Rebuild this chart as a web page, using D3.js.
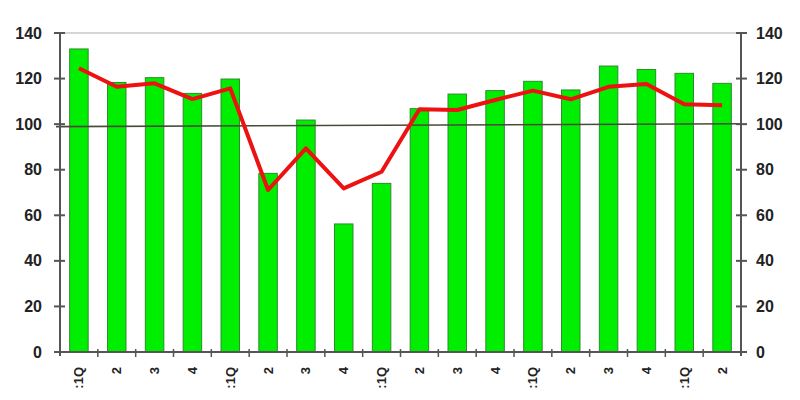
<!DOCTYPE html>
<html><head><meta charset="utf-8">
<script src="https://cdn.jsdelivr.net/npm/d3@7"></script>
<style>body{margin:0;background:#fff}svg{display:block}text{font-family:"Liberation Sans",Arial,sans-serif;font-weight:bold;fill:#222}</style>
</head><body><svg id="c" width="800" height="400"></svg>
<script>
const categories = [":1Q","2","3","4",":1Q","2","3","4",":1Q","2","3","4",":1Q","2","3","4",":1Q","2"];
const barValues = [133,118.3,120.4,113.5,119.8,78.4,101.8,56.2,74,106.8,113.2,114.7,118.8,115,125.5,124,122.3,117.9];
const lineValues = [124.5,116.4,117.9,111,115.7,71.1,89.4,71.8,79.1,106.5,106.2,110.6,114.7,110.9,116.4,117.6,108.7,108.3];
const refLine = [98.9,100.2];
const yTicks = [0,20,40,60,80,100,120,140];

const svg = d3.select("#c");
const L=60,R=741,T=33,B=352;
const idx = categories.map((d,i)=>i);
const x = d3.scaleBand().domain(idx).range([L,R]).paddingInner(0.5).paddingOuter(0.25);
const xs = d3.scaleBand().domain(idx).range([L,R]);
const y = d3.scaleLinear().domain([0,140]).range([B,T]);

// top border
svg.append("line").attr("x1",L).attr("x2",R).attr("y1",T).attr("y2",T).attr("stroke","#c8c8c8").attr("stroke-width",1.5);

// bars
svg.selectAll("rect.bar").data(barValues).join("rect")
  .attr("x",(d,i)=>xs(i)+xs.bandwidth()/2-9.25).attr("width",18.5)
  .attr("y",d=>y(d)).attr("height",d=>B-y(d))
  .attr("fill","#00ee00").attr("stroke","#2e8b2e").attr("stroke-width",1);

// reference line
svg.append("line").attr("x1",L-4).attr("x2",R).attr("y1",y(refLine[0])).attr("y2",y(refLine[1]))
  .attr("stroke","#4a4a3a").attr("stroke-width",1.6);

// red line
svg.append("path").datum(lineValues)
  .attr("d",d3.line().x((d,i)=>xs(i)+xs.bandwidth()/2).y(d=>y(d)))
  .attr("fill","none").attr("stroke","#ee1111").attr("stroke-width",4).attr("stroke-linejoin","round");

const axisCol="#555";
// left axis
const gl = svg.append("g").attr("transform",`translate(${L},0)`)
  .call(d3.axisLeft(y).tickValues(yTicks).tickSize(0).tickPadding(18));
gl.select(".domain").remove();
gl.selectAll("text").style("font-size","16px");
svg.append("line").attr("x1",L).attr("x2",L).attr("y1",T).attr("y2",B+4).attr("stroke",axisCol).attr("stroke-width",2);
svg.selectAll("line.lt").data(yTicks).join("line").attr("class","lt")
  .attr("x1",L-6).attr("x2",L+5).attr("y1",d=>y(d)).attr("y2",d=>y(d)).attr("stroke",axisCol).attr("stroke-width",2);

// right axis
const gr = svg.append("g").attr("transform",`translate(${R},0)`)
  .call(d3.axisRight(y).tickValues(yTicks).tickSize(0).tickPadding(15));
gr.select(".domain").remove();
gr.selectAll("text").style("font-size","16px");
svg.append("line").attr("x1",R).attr("x2",R).attr("y1",T).attr("y2",B+4).attr("stroke",axisCol).attr("stroke-width",2);
svg.selectAll("line.rt").data(yTicks).join("line").attr("class","rt")
  .attr("x1",R-5).attr("x2",R+6).attr("y1",d=>y(d)).attr("y2",d=>y(d)).attr("stroke",axisCol).attr("stroke-width",2);

// bottom axis
svg.append("line").attr("x1",L-6).attr("x2",R+6).attr("y1",B).attr("y2",B).attr("stroke",axisCol).attr("stroke-width",2);
svg.selectAll("line.bt").data(idx.slice(1)).join("line").attr("class","bt")
  .attr("x1",d=>xs(d)).attr("x2",d=>xs(d)).attr("y1",B-3).attr("y2",B+5).attr("stroke",axisCol).attr("stroke-width",1.5);

// category labels
svg.selectAll("text.cat").data(categories).join("text").attr("class","cat")
  .attr("transform",(d,i)=>`translate(${xs(i)+xs.bandwidth()/2},367) rotate(-90)`)
  .attr("text-anchor","end").attr("dy","0.35em").style("font-size","13px").text(d=>d);
</script></body></html>
